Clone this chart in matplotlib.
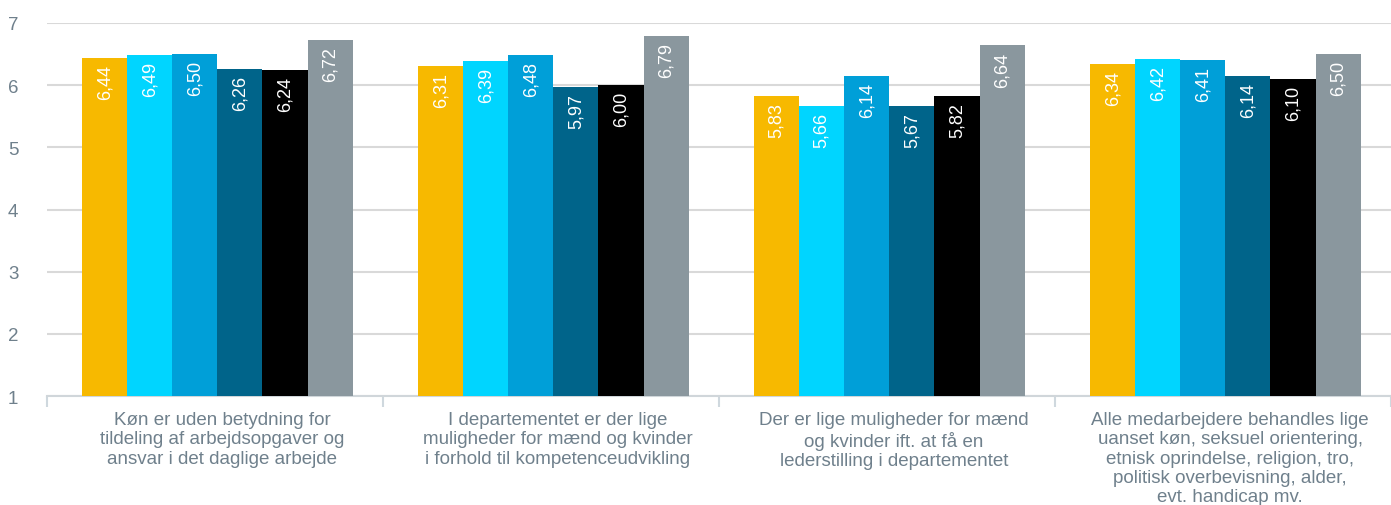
import matplotlib
matplotlib.use("Agg")
import matplotlib.pyplot as plt
import matplotlib.transforms as mtransforms
import numpy as np

plt.rcParams['font.family'] = ['Liberation Sans', 'DejaVu Sans']

categories = [
    "Køn er uden betydning for\ntildeling af arbejdsopgaver og\nansvar i det daglige arbejde",
    "I departementet er der lige\nmuligheder for mænd og kvinder\ni forhold til kompetenceudvikling",
    "Der er lige muligheder for mænd\nog kvinder ift. at få en\nlederstilling i departementet",
    "Alle medarbejdere behandles lige\nuanset køn, seksuel orientering,\netnisk oprindelse, religion, tro,\npolitisk overbevisning, alder,\nevt. handicap mv.",
]

series_1 = [6.44, 6.31, 5.83, 6.34]
series_2 = [6.49, 6.39, 5.66, 6.42]
series_3 = [6.50, 6.48, 6.14, 6.41]
series_4 = [6.26, 5.97, 5.67, 6.14]
series_5 = [6.24, 6.00, 5.82, 6.10]
series_6 = [6.72, 6.79, 6.64, 6.50]

y_ticks = [1, 2, 3, 4, 5, 6, 7]

all_series = [series_1, series_2, series_3, series_4, series_5, series_6]
colors = ["#F7B900", "#00D5FF", "#009FD8", "#00648A", "#000000", "#8A979E"]

fig = plt.figure(figsize=(13.91, 5.06), dpi=100)
ax = fig.add_axes([47 / 1391, 1 - 397 / 506, 1 - 47 / 1391, (397 - 24) / 506])

x = np.arange(len(categories))
n = len(all_series)
group_w = 0.805
bw = group_w / n
shift = 0.007

for i, (vals, col) in enumerate(zip(all_series, colors)):
    pos = x - group_w / 2 + bw * (i + 0.5) + shift
    ax.bar(pos, np.array(vals) - 1, bottom=1, width=bw, color=col,
           edgecolor='none', zorder=3)
    for p, v in zip(pos, vals):
        ax.annotate(f"{v:.2f}".replace(".", ","), xy=(p, v), xytext=(0, -6),
                    textcoords='offset pixels', rotation=90, ha='center',
                    va='top', color='white', fontsize=13, zorder=4)

ax.set_xlim(-0.5, len(categories) - 0.5)
ax.set_ylim(1, 7)
ax.set_yticks(y_ticks)
ax.yaxis.grid(True, color='#d9d9d9', linewidth=1.5, zorder=0)
ax.set_axisbelow(True)

for side in ['left', 'right', 'top']:
    ax.spines[side].set_visible(False)
ax.spines['bottom'].set_color('#d0d6da')
ax.spines['bottom'].set_linewidth(1.5)

ax.tick_params(axis='y', length=0, pad=28, labelsize=13.5, labelcolor='#6f808c')
for lbl in ax.get_yticklabels():
    lbl.set_horizontalalignment('left')

# category boundaries as tick marks, names as minor labels
ax.set_xticks(np.arange(-0.5, len(categories), 1.0))
ax.set_xticklabels([])
ax.tick_params(axis='x', which='major', length=8, width=1.5, color='#cfd8de',
               direction='out')
ax.set_xticks(x, minor=True)
ax.set_xticklabels(categories, minor=True)
ax.tick_params(axis='x', which='minor', length=0, pad=11, labelsize=13.5,
               labelcolor='#6f808c')
nudge = mtransforms.ScaledTranslation(7 / 100, 0, fig.dpi_scale_trans)
for lbl in ax.get_xticklabels(minor=True):
    lbl.set_linespacing(1.17)
    lbl.set_transform(lbl.get_transform() + nudge)

fig.savefig("out.png", dpi=100)
